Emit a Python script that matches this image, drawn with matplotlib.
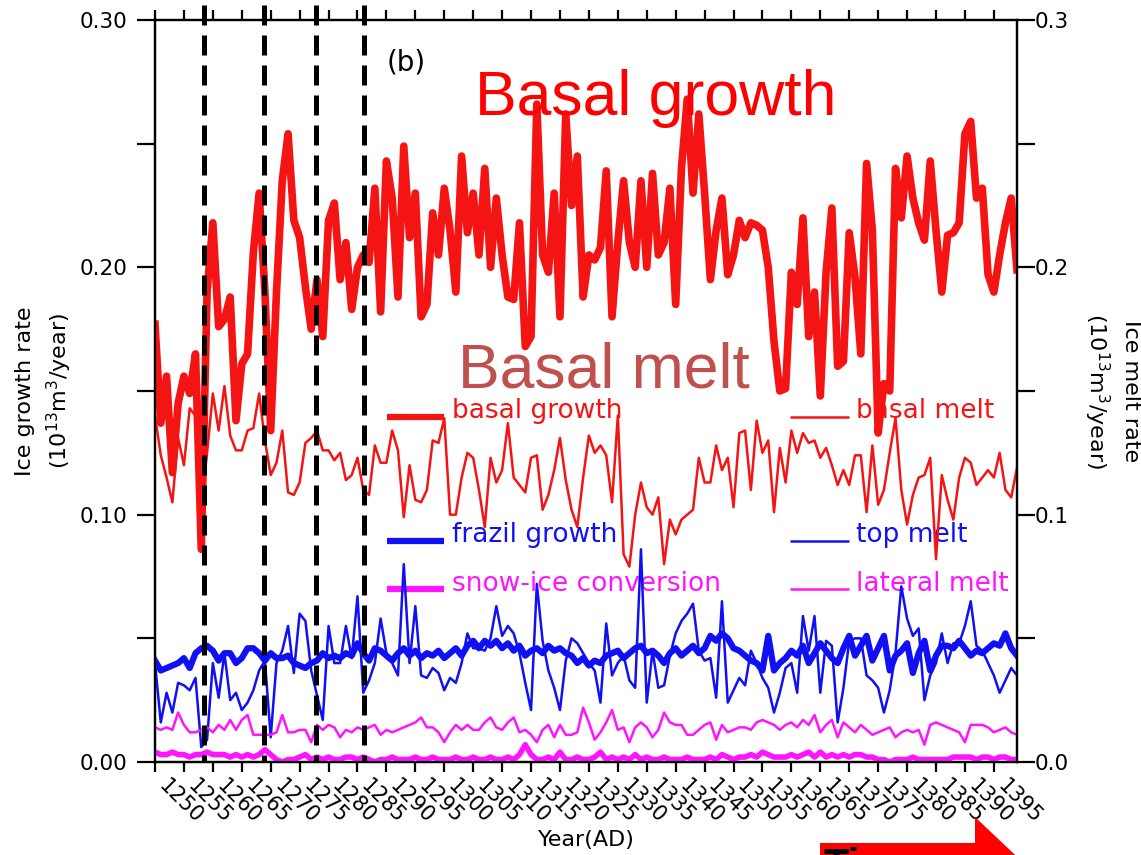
import numpy as np
import matplotlib.pyplot as plt
from matplotlib.patches import Polygon
from matplotlib.ticker import MultipleLocator, FormatStrFormatter
from matplotlib.transforms import ScaledTranslation

plt.rcParams['mathtext.default'] = 'regular'
plt.rcParams['font.family'] = 'DejaVu Sans'

# annual sea-ice budget terms, 10^13 m^3/year
years = np.arange(1250, 1400)

basal_growth = [
    0.177, 0.137, 0.156, 0.117, 0.145, 0.156, 0.149, 0.165, 0.086, 0.190,
    0.218, 0.176, 0.179, 0.188, 0.138, 0.161, 0.165, 0.206, 0.230, 0.190,
    0.134, 0.190, 0.235, 0.254, 0.219, 0.212, 0.192, 0.175, 0.195, 0.172,
    0.219, 0.226, 0.195, 0.210, 0.183, 0.200, 0.205, 0.202, 0.232, 0.182,
    0.243, 0.228, 0.188, 0.249, 0.212, 0.230, 0.180, 0.185, 0.222, 0.205,
    0.232, 0.215, 0.190, 0.245, 0.214, 0.230, 0.205, 0.240, 0.200, 0.228,
    0.205, 0.188, 0.187, 0.218, 0.168, 0.172, 0.266, 0.205, 0.198, 0.230,
    0.180, 0.262, 0.225, 0.245, 0.188, 0.205, 0.203, 0.208, 0.239, 0.180,
    0.210, 0.235, 0.210, 0.200, 0.235, 0.200, 0.238, 0.205, 0.210, 0.232,
    0.185, 0.240, 0.268, 0.230, 0.262, 0.230, 0.195, 0.215, 0.228, 0.197,
    0.205, 0.219, 0.212, 0.218, 0.217, 0.215, 0.200, 0.170, 0.150, 0.151,
    0.198, 0.185, 0.220, 0.172, 0.190, 0.148, 0.198, 0.224, 0.160, 0.162,
    0.214, 0.196, 0.165, 0.242, 0.215, 0.133, 0.153, 0.150, 0.240, 0.220,
    0.245, 0.228, 0.218, 0.211, 0.243, 0.215, 0.190, 0.213, 0.214, 0.218,
    0.254, 0.259, 0.228, 0.232, 0.197, 0.190, 0.205, 0.218, 0.228, 0.199,
]

basal_melt = [
    0.140, 0.124, 0.115, 0.105, 0.131, 0.120, 0.143, 0.140, 0.103, 0.125,
    0.149, 0.134, 0.152, 0.132, 0.126, 0.126, 0.134, 0.135, 0.149, 0.130,
    0.116, 0.121, 0.134, 0.109, 0.108, 0.113, 0.129, 0.131, 0.134, 0.126,
    0.126, 0.122, 0.125, 0.114, 0.116, 0.123, 0.110, 0.108, 0.128, 0.121,
    0.121, 0.134, 0.126, 0.099, 0.120, 0.106, 0.105, 0.110, 0.130, 0.129,
    0.139, 0.100, 0.100, 0.115, 0.125, 0.123, 0.110, 0.095, 0.123, 0.113,
    0.118, 0.137, 0.115, 0.112, 0.109, 0.123, 0.124, 0.102, 0.108, 0.118,
    0.131, 0.114, 0.102, 0.095, 0.115, 0.132, 0.125, 0.128, 0.124, 0.105,
    0.140, 0.084, 0.079, 0.100, 0.113, 0.103, 0.100, 0.107, 0.080, 0.098,
    0.092, 0.098, 0.100, 0.102, 0.123, 0.113, 0.113, 0.128, 0.118, 0.123,
    0.103, 0.133, 0.134, 0.110, 0.138, 0.125, 0.130, 0.101, 0.127, 0.113,
    0.134, 0.125, 0.133, 0.129, 0.130, 0.123, 0.127, 0.120, 0.112, 0.118,
    0.112, 0.124, 0.124, 0.101, 0.128, 0.104, 0.110, 0.125, 0.139, 0.110,
    0.096, 0.108, 0.115, 0.116, 0.123, 0.082, 0.116, 0.106, 0.098, 0.115,
    0.123, 0.121, 0.112, 0.115, 0.118, 0.115, 0.125, 0.110, 0.107, 0.119,
]

frazil_growth = [
    0.041, 0.037, 0.038, 0.039, 0.040, 0.042, 0.038, 0.044, 0.046, 0.047,
    0.045, 0.041, 0.044, 0.044, 0.040, 0.042, 0.046, 0.046, 0.044, 0.041,
    0.044, 0.042, 0.042, 0.043, 0.040, 0.039, 0.038, 0.040, 0.041, 0.044,
    0.042, 0.043, 0.042, 0.044, 0.043, 0.048, 0.044, 0.041, 0.046, 0.045,
    0.043, 0.041, 0.044, 0.046, 0.043, 0.045, 0.042, 0.044, 0.043, 0.045,
    0.042, 0.044, 0.046, 0.043, 0.047, 0.049, 0.046, 0.049, 0.047, 0.049,
    0.046, 0.048, 0.045, 0.047, 0.043, 0.045, 0.046, 0.044, 0.047, 0.045,
    0.046, 0.044, 0.043, 0.040, 0.042, 0.039, 0.041, 0.040, 0.043, 0.044,
    0.045, 0.042, 0.044, 0.046, 0.047, 0.044, 0.045, 0.043, 0.040, 0.044,
    0.046, 0.043, 0.045, 0.047, 0.044, 0.046, 0.051, 0.049, 0.052, 0.050,
    0.046, 0.045, 0.043, 0.041, 0.040, 0.037, 0.051, 0.037, 0.040, 0.042,
    0.045, 0.043, 0.047, 0.040, 0.044, 0.048, 0.045, 0.042, 0.040, 0.046,
    0.051, 0.043, 0.047, 0.051, 0.041, 0.046, 0.051, 0.037, 0.043, 0.045,
    0.048, 0.036, 0.044, 0.049, 0.037, 0.043, 0.047, 0.047, 0.046, 0.049,
    0.046, 0.043, 0.045, 0.044, 0.046, 0.048, 0.047, 0.052, 0.046, 0.043,
]

top_melt = [
    0.040, 0.016, 0.028, 0.020, 0.032, 0.031, 0.029, 0.034, 0.006, 0.009,
    0.040, 0.026, 0.044, 0.025, 0.028, 0.021, 0.024, 0.029, 0.037, 0.041,
    0.010, 0.040, 0.045, 0.055, 0.036, 0.060, 0.057, 0.037, 0.027, 0.017,
    0.055, 0.040, 0.040, 0.055, 0.042, 0.067, 0.028, 0.033, 0.040, 0.058,
    0.044, 0.040, 0.035, 0.080, 0.040, 0.063, 0.035, 0.034, 0.038, 0.036,
    0.029, 0.034, 0.032, 0.040, 0.052, 0.046, 0.046, 0.045, 0.050, 0.063,
    0.051, 0.055, 0.052, 0.044, 0.032, 0.021, 0.072, 0.049, 0.037, 0.030,
    0.021, 0.041, 0.050, 0.048, 0.044, 0.040, 0.037, 0.024, 0.056, 0.035,
    0.040, 0.043, 0.033, 0.030, 0.086, 0.024, 0.045, 0.030, 0.031, 0.043,
    0.052, 0.057, 0.060, 0.064, 0.045, 0.041, 0.042, 0.026, 0.065, 0.024,
    0.029, 0.034, 0.031, 0.045, 0.040, 0.034, 0.030, 0.020, 0.028, 0.038,
    0.040, 0.028, 0.059, 0.045, 0.059, 0.028, 0.049, 0.047, 0.016, 0.030,
    0.049, 0.050, 0.050, 0.035, 0.033, 0.030, 0.020, 0.029, 0.044, 0.071,
    0.058, 0.051, 0.054, 0.025, 0.035, 0.040, 0.052, 0.040, 0.048, 0.048,
    0.055, 0.065, 0.047, 0.045, 0.040, 0.035, 0.028, 0.033, 0.038, 0.035,
]

snow_ice = [
    0.004, 0.003, 0.003, 0.004, 0.003, 0.003, 0.002, 0.003, 0.003, 0.004,
    0.003, 0.003, 0.003, 0.002, 0.003, 0.002, 0.003, 0.002, 0.003, 0.005,
    0.003, 0.001, 0.000, 0.001, 0.001, 0.002, 0.003, 0.001, 0.002, 0.001,
    0.002, 0.001, 0.001, 0.002, 0.002, 0.001, 0.002, 0.001, 0.000, 0.001,
    0.001, 0.002, 0.001, 0.001, 0.001, 0.002, 0.001, 0.001, 0.002, 0.001,
    0.001, 0.001, 0.002, 0.001, 0.001, 0.002, 0.001, 0.001, 0.002, 0.001,
    0.001, 0.002, 0.001, 0.003, 0.007, 0.003, 0.001, 0.001, 0.002, 0.001,
    0.004, 0.001, 0.001, 0.002, 0.001, 0.001, 0.002, 0.004, 0.001, 0.002,
    0.001, 0.002, 0.001, 0.003, 0.001, 0.002, 0.001, 0.001, 0.002, 0.001,
    0.001, 0.001, 0.002, 0.001, 0.001, 0.001, 0.002, 0.001, 0.003, 0.002,
    0.001, 0.002, 0.002, 0.003, 0.002, 0.004, 0.003, 0.002, 0.002, 0.002,
    0.003, 0.002, 0.003, 0.004, 0.002, 0.004, 0.002, 0.003, 0.002, 0.003,
    0.002, 0.003, 0.003, 0.002, 0.002, 0.001, 0.001, 0.000, 0.001, 0.001,
    0.001, 0.002, 0.001, 0.001, 0.001, 0.001, 0.001, 0.001, 0.002, 0.002,
    0.002, 0.002, 0.001, 0.002, 0.002, 0.001, 0.002, 0.002, 0.001, 0.001,
]

lateral_melt = [
    0.014, 0.013, 0.014, 0.013, 0.020, 0.015, 0.012, 0.012, 0.013, 0.014,
    0.012, 0.015, 0.013, 0.017, 0.013, 0.017, 0.019, 0.011, 0.011, 0.011,
    0.011, 0.012, 0.019, 0.012, 0.012, 0.013, 0.013, 0.008, 0.015, 0.013,
    0.015, 0.014, 0.010, 0.013, 0.012, 0.014, 0.013, 0.014, 0.015, 0.011,
    0.013, 0.012, 0.013, 0.014, 0.015, 0.016, 0.018, 0.014, 0.014, 0.012,
    0.008, 0.012, 0.015, 0.013, 0.015, 0.013, 0.013, 0.016, 0.018, 0.014,
    0.013, 0.016, 0.018, 0.012, 0.013, 0.011, 0.008, 0.013, 0.015, 0.010,
    0.015, 0.011, 0.011, 0.012, 0.022, 0.016, 0.009, 0.012, 0.016, 0.021,
    0.013, 0.014, 0.008, 0.014, 0.016, 0.014, 0.010, 0.013, 0.020, 0.016,
    0.015, 0.015, 0.011, 0.011, 0.013, 0.015, 0.016, 0.009, 0.015, 0.012,
    0.013, 0.014, 0.014, 0.013, 0.016, 0.017, 0.016, 0.015, 0.013, 0.015,
    0.016, 0.014, 0.017, 0.015, 0.019, 0.012, 0.015, 0.017, 0.010, 0.016,
    0.014, 0.012, 0.015, 0.013, 0.011, 0.012, 0.013, 0.014, 0.010, 0.012,
    0.013, 0.012, 0.013, 0.007, 0.015, 0.016, 0.015, 0.014, 0.013, 0.012,
    0.008, 0.015, 0.015, 0.015, 0.014, 0.012, 0.013, 0.014, 0.012, 0.011,
]

# volcanic eruption years marked with dashed lines
eruption_years = [1258.5, 1268.9, 1277.9, 1286.2]

RED = '#f51414'
BLUE = '#1010f5'
MAGENTA = '#ff14ff'

fig = plt.figure(figsize=(11.41, 8.55), dpi=100)
ax = fig.add_axes([155 / 1141, 93 / 855, 862 / 1141, 742 / 855])
ax2 = ax.twinx()

# growth terms on the left scale (thick), melt terms on the right (thin)
ax.plot(years, basal_growth, color=RED, lw=5.5, zorder=3)
ax.plot(years, frazil_growth, color=BLUE, lw=4.5, zorder=3)
ax.plot(years, snow_ice, color=MAGENTA, lw=4.0, zorder=3)
ax2.plot(years, basal_melt, color=RED, lw=1.8)
ax2.plot(years, top_melt, color=BLUE, lw=1.8)
ax2.plot(years, lateral_melt, color=MAGENTA, lw=1.8)

for yr in eruption_years:
    ax2.plot([yr, yr], [0.306, 0.0], color='black', lw=3.6,
             dashes=(4.0, 2.0), zorder=6, clip_on=False)

for a in (ax, ax2):
    a.set_xlim(1250, 1399)
    a.set_ylim(0, 0.30)
    a.yaxis.set_major_locator(MultipleLocator(0.1))
    a.yaxis.set_minor_locator(MultipleLocator(0.05))
    for sp in a.spines.values():
        sp.set_linewidth(1.6)

ax.yaxis.set_major_formatter(FormatStrFormatter('%.2f'))
ax2.yaxis.set_major_formatter(FormatStrFormatter('%.1f'))
ax.tick_params(axis='y', which='both', direction='out', length=13, width=1.6,
               labelsize=15.5, pad=7)
ax2.tick_params(axis='y', which='both', direction='out', length=13, width=1.6,
                labelsize=15.5, pad=0)

ax.set_xticks(years[::5])
ax.set_xticklabels([str(y) for y in years[::5]], rotation=-45,
                   ha='left', va='top', rotation_mode='anchor')
ax.tick_params(axis='x', direction='out', length=7, width=1.6, top=True,
               labelsize=15, pad=3)
shift = ScaledTranslation(10 / 72, 0, fig.dpi_scale_trans)
for lab in ax.get_xticklabels():
    lab.set_transform(lab.get_transform() + shift)

ax.set_xlabel('Year(AD)', fontsize=16, labelpad=2)
ax.set_ylabel('Ice growth rate\n(10$^{13}$m$^{3}$/year)', fontsize=16,
              linespacing=1.45)
ax.yaxis.set_label_coords(-0.094, 0.5)
ax2.set_ylabel('Ice melt rate\n(10$^{13}$m$^{3}$/year)', fontsize=16,
               linespacing=1.45, rotation=270, va='bottom')
ax2.yaxis.set_label_coords(1.0754, 0.5)

# hand-placed two-column key
growth_keys = [('basal growth', RED), ('frazil growth', BLUE),
               ('snow-ice conversion', MAGENTA)]
melt_keys = [('basal melt', RED), ('top melt', BLUE),
             ('lateral melt', MAGENTA)]
row_y = [0.4636, 0.2965, 0.2305]
for (label, col), y in zip(growth_keys, row_y):
    ax.plot([0.2691, 0.3353], [y + 0.002, y + 0.002], color=col, lw=4.5,
            transform=ax.transAxes, solid_capstyle='butt', zorder=1)
    ax.text(0.3445, y, label, color=col, fontsize=19, va='baseline',
            transform=ax.transAxes, zorder=1)
for (label, col), y in zip(melt_keys, row_y):
    ax.plot([0.7367, 0.8051], [y + 0.002, y + 0.002], color=col, lw=1.8,
            transform=ax.transAxes, solid_capstyle='butt', zorder=1)
    ax.text(0.8132, y, label, color=col, fontsize=19, va='baseline',
            transform=ax.transAxes, zorder=1)

ax.text(0.2691, 0.943, '(b)', fontsize=20, va='center',
        transform=ax.transAxes)

fig.text(475 / 1141, (855 - 115) / 855, 'Basal growth', color='#ff0000',
         fontsize=45, family='Liberation Sans', va='baseline')
fig.text(458 / 1141, (855 - 387) / 855, 'Basal melt', color='#c0504d',
         fontsize=45, family='Liberation Sans', va='baseline')

# time arrow along the bottom edge
arrow_px = [(820, 843), (975, 843), (975, 817), (1031, 870),
            (975, 923), (975, 897), (820, 897)]
arrow = Polygon([(x / 1141, (855 - y) / 855) for x, y in arrow_px],
                closed=True, facecolor='#ff0000', edgecolor='none',
                transform=fig.transFigure)
fig.patches.append(arrow)
fig.text(823 / 1141, (855 - 847) / 855, 'Time', color='black', fontsize=30,
         fontweight='bold', family='Liberation Sans', va='top')

fig.savefig('out.png', dpi=100)
